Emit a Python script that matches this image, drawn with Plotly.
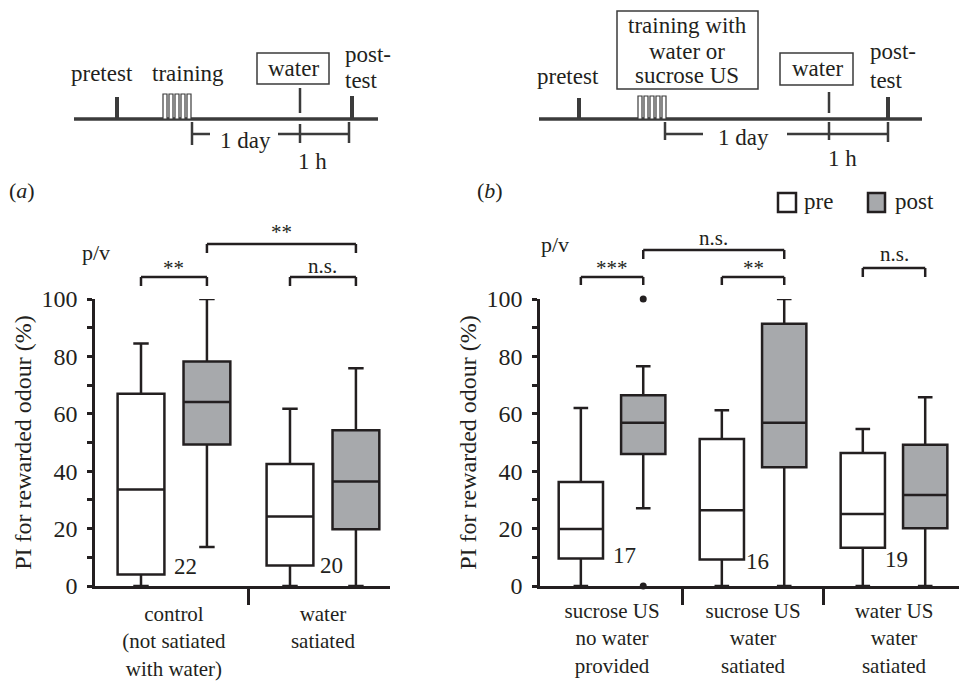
import plotly.graph_objects as go

W, H = 959, 684
FONT = "Liberation Serif"
INK = "#231f20"
GREY = "#a7a9ac"
LW = 2.5

# ---------------- data: panel (a) ----------------
a_labels = ["control<br>(not satiated<br>with water)", "water<br>satiated"]
a_pos = [0, 1]
a_pre_lo = [0, 0]
a_pre_q1 = [4.0, 7.1]
a_pre_med = [33.6, 24.2]
a_pre_q3 = [67.0, 42.5]
a_pre_hi = [84.5, 61.8]
a_post_lo = [13.6, 0]
a_post_q1 = [49.3, 19.8]
a_post_med = [64.1, 36.4]
a_post_q3 = [78.2, 54.3]
a_post_hi = [100, 75.9]
a_n = ["22", "20"]
a_n_x = [0.08, 1.054]
a_n_y = [6.7, 7.0]

# ---------------- data: panel (b) ----------------
b_labels = ["sucrose US<br>no water<br>provided", "sucrose US<br>water<br>satiated",
            "water US<br>water<br>satiated"]
b_pos = [0, 1, 2]
b_pre_lo = [0, 0, 0]
b_pre_q1 = [9.6, 9.2, 13.3]
b_pre_med = [19.9, 26.4, 25.1]
b_pre_q3 = [36.2, 51.2, 46.3]
b_pre_hi = [62.0, 61.2, 54.7]
b_post_lo = [27.1, 0, 0]
b_post_q1 = [46.0, 41.4, 20.1]
b_post_med = [56.9, 56.9, 31.7]
b_post_q3 = [66.5, 91.4, 49.2]
b_post_hi = [76.6, 100, 65.8]
b_out_group = [0, 0]
b_out_y = [100, 0]
b_n = ["17", "16", "19"]
b_n_x = [0.085, 1.035, 2.018]
b_n_y = [10.8, 8.4, 9.1]

BOXGAP = 0.115
BOXGROUPGAP = 0.29
OFF = (1 - BOXGAP) / 4  # centre offset of pre/post boxes from group position


def px(x):
    return x / W


def py(y):
    return 1 - y / H


fig = go.Figure()


def add_boxes(pos, lo, q1, med, q3, hi, fill, name, xa, ya):
    fig.add_trace(go.Box(
        x=pos, lowerfence=lo, q1=q1, median=med, q3=q3, upperfence=hi,
        fillcolor=fill, line=dict(color=INK, width=LW), whiskerwidth=0.33,
        boxpoints=False, offsetgroup=name, name=name, showlegend=False,
        xaxis=xa, yaxis=ya, hoverinfo="skip"))


add_boxes(a_pos, a_pre_lo, a_pre_q1, a_pre_med, a_pre_q3, a_pre_hi, "white", "pre", "x", "y")
add_boxes(a_pos, a_post_lo, a_post_q1, a_post_med, a_post_q3, a_post_hi, GREY, "post", "x", "y")
add_boxes(b_pos, b_pre_lo, b_pre_q1, b_pre_med, b_pre_q3, b_pre_hi, "white", "pre", "x2", "y2")
add_boxes(b_pos, b_post_lo, b_post_q1, b_post_med, b_post_q3, b_post_hi, GREY, "post", "x2", "y2")

fig.add_trace(go.Scatter(
    x=[g + OFF for g in b_out_group], y=b_out_y, mode="markers",
    marker=dict(color=INK, size=7), cliponaxis=False, showlegend=False,
    xaxis="x2", yaxis="y2", hoverinfo="skip"))

shapes = []
annots = []


def line(x0, y0, x1, y1, w=LW, color=INK):
    shapes.append(dict(type="line", xref="paper", yref="paper",
                       x0=px(x0), y0=py(y0), x1=px(x1), y1=py(y1),
                       line=dict(color=color, width=w)))


def rect(x0, y0, x1, y1, w=1.5, fill="white", color=INK):
    shapes.append(dict(type="rect", xref="paper", yref="paper",
                       x0=px(x0), y0=py(y0), x1=px(x1), y1=py(y1),
                       line=dict(color=color, width=w), fillcolor=fill))


def text(x, y, s, size=23, xanchor="center"):
    annots.append(dict(xref="paper", yref="paper", x=px(x), y=py(y), text=s,
                       showarrow=False, xanchor=xanchor, yanchor="middle",
                       font=dict(family=FONT, size=size, color=INK)))


TL = "#3b3b3b"
# ---------------- timeline (a) ----------------
line(74, 119, 378, 119, 3.5, TL)
line(117, 97, 117, 119, 4, TL)
for i in range(5):
    rect(163 + 6 * i, 94, 167 + 6 * i, 119, 1.2, "white", TL)
line(300, 88, 300, 113, 2.5, TL)
line(300, 124, 300, 143, 2.5, TL)
line(352, 96, 352, 119, 4, TL)
line(192, 122, 192, 145, 2.5, TL)
line(192, 134, 210, 134, 2.5, TL)
line(278, 134, 349, 134, 2.5, TL)
line(349, 122, 349, 143, 2.5, TL)
rect(257, 53, 329, 84, 1.5, "white", TL)
text(102, 73, "pretest")
text(188, 73, "training")
text(293, 69, "water")
text(343, 54, "post-", xanchor="left")
text(343, 80, "test", xanchor="left")
text(245, 140, "1 day")
text(312, 162, "1 h")

# ---------------- timeline (b) ----------------
line(539, 119, 922, 119, 3.5, TL)
line(579, 98, 579, 119, 4, TL)
for i in range(5):
    rect(638 + 6 * i, 96, 642 + 6 * i, 119, 1.2, "white", TL)
rect(617, 11, 758, 89, 1.5, "white", TL)
text(687, 26, "training with")
text(687, 51, "water or")
text(687, 75, "sucrose US")
text(568, 77, "pretest")
rect(780, 53, 853, 85, 1.5, "white", TL)
text(817, 69, "water")
line(829, 92, 829, 113, 2.5, TL)
line(829, 122, 829, 140, 2.5, TL)
line(888, 97, 888, 119, 4, TL)
text(868, 52, "post-", xanchor="left")
text(868, 80, "test", xanchor="left")
line(665, 122, 665, 140, 2.5, TL)
line(665, 134, 703, 134, 2.5, TL)
line(787, 134, 888, 134, 2.5, TL)
line(888, 122, 888, 142, 2.5, TL)
text(743, 137, "1 day")
text(842, 158, "1 h")

# ---------------- panel labels, legend, p/v ----------------
text(22, 190, "(<i>a</i>)", 22)
text(490, 190, "(<i>b</i>)", 22)
text(96, 252, "p/v", 22)
text(555, 245, "p/v", 22)
rect(778, 193, 796, 212, 2.5, "white", INK)
text(802, 201, "pre", 23, xanchor="left")
rect(868, 193, 885, 212, 2.5, GREY, INK)
text(893, 201, "post", 23, xanchor="left")

# ---------------- significance brackets ----------------
brackets = [
    ("x", 0 - OFF, 0 + OFF, 277, 286, "**", 268),
    ("x", 0 + OFF, 1 + OFF, 244, 253, "**", 232),
    ("x", 1 - OFF, 1 + OFF, 277, 286, "n.s.", 266),
    ("x2", 0 - OFF, 0 + OFF, 277, 285, "***", 268),
    ("x2", 0 + OFF, 1 + OFF, 250, 259, "n.s.", 238),
    ("x2", 1 - OFF, 1 + OFF, 277, 285, "**", 268),
    ("x2", 2 - OFF, 2 + OFF, 268, 277, "n.s.", 254),
]
for xr, x0, x1, ytop, ybot, lab, ylab in brackets:
    for xa, xb, ya, yb in [(x0, x1, ytop, ytop), (x0, x0, ytop, ybot), (x1, x1, ytop, ybot)]:
        shapes.append(dict(type="line", xref=xr, yref="paper", x0=xa, x1=xb,
                           y0=py(ya), y1=py(yb), line=dict(color=INK, width=LW)))
    annots.append(dict(xref=xr, yref="paper", x=(x0 + x1) / 2, y=py(ylab), text=lab,
                       showarrow=False, yanchor="middle",
                       font=dict(family=FONT, size=21, color=INK)))

# ---------------- n labels ----------------
for s, xv, yv in zip(a_n, a_n_x, a_n_y):
    annots.append(dict(xref="x", yref="y", x=xv, y=yv, text=s, showarrow=False,
                       xanchor="center", yanchor="middle",
                       font=dict(family=FONT, size=23, color=INK)))
for s, xv, yv in zip(b_n, b_n_x, b_n_y):
    annots.append(dict(xref="x2", yref="y2", x=xv, y=yv, text=s, showarrow=False,
                       xanchor="center", yanchor="middle",
                       font=dict(family=FONT, size=23, color=INK)))

ydom = [py(586), py(299)]
yax = dict(range=[0, 100], tickvals=[0, 20, 40, 60, 80, 100], ticks="outside",
           ticklen=5, tickwidth=LW, tickcolor=INK, showline=True, linewidth=LW,
           linecolor=INK, showgrid=False, zeroline=False, automargin=False,
           ticklabelstandoff=5,
           minor=dict(dtick=10, tick0=0, ticks="outside", ticklen=5, tickwidth=LW,
                      tickcolor=INK, showgrid=False),
           tickfont=dict(family=FONT, size=24, color=INK),
           title=dict(text="PI for rewarded odour (%)", standoff=4,
                      font=dict(family=FONT, size=24, color=INK)),
           domain=ydom)


def xax(dom, rng, tv, tt, standoff):
    return dict(domain=dom, range=rng, tickvals=tv, ticktext=tt, ticks="",
                showline=True, linewidth=LW, linecolor=INK, showgrid=False,
                zeroline=False, ticklabelstandoff=standoff, automargin=False,
                tickfont=dict(family=FONT, size=21, color=INK),
                minor=dict(tickvals=[p + 0.5 for p in tv[:-1]], ticks="outside",
                           ticklen=16, tickwidth=LW, tickcolor=INK, showgrid=False))


fig.update_layout(
    width=W, height=H, margin=dict(l=0, r=0, t=0, b=0, autoexpand=False),
    paper_bgcolor="white", plot_bgcolor="rgba(0,0,0,0)",
    font=dict(family=FONT, color=INK),
    boxmode="group", boxgap=BOXGAP, boxgroupgap=BOXGROUPGAP,
    showlegend=False,
    xaxis=dict(**xax([px(95), px(390)], [-0.53, 1.45], a_pos, a_labels, 7), anchor="y"),
    yaxis=dict(**yax, anchor="x"),
    xaxis2=dict(**xax([px(540), 1.0], [-0.511, 2.461], b_pos, b_labels, 4), anchor="y2"),
    yaxis2=dict(**yax, anchor="x2"),
    shapes=shapes, annotations=annots,
)

fig.write_html("out.html")
